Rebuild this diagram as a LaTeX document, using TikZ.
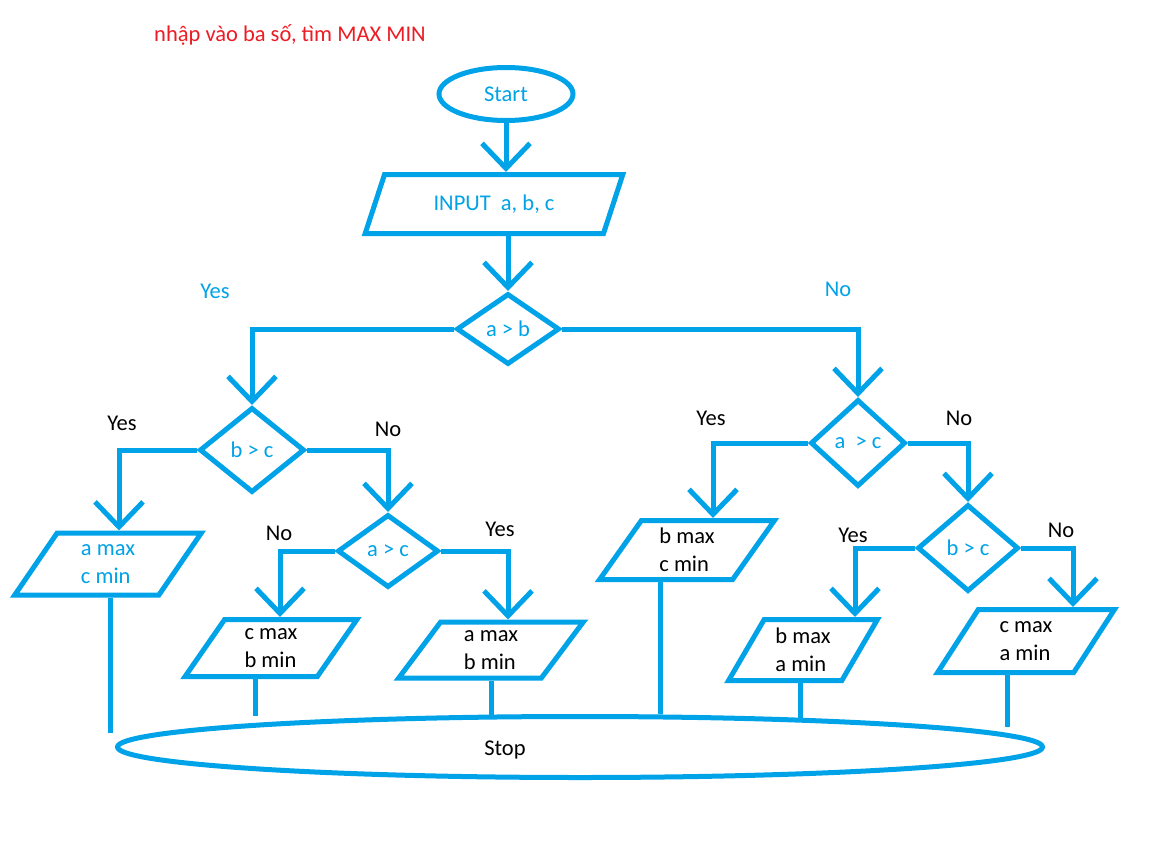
\documentclass[tikz,border=0pt]{standalone}
\usepackage{fontspec}
\setmainfont{Carlito}
\usetikzlibrary{positioning, arrows.meta, shapes.geometric}
\definecolor{flowblue}{RGB}{0,162,232}
\definecolor{titlered}{RGB}{237,28,36}

\begin{document}
\begin{tikzpicture}[x=1pt, y=-1pt, line width=5pt,
    every node/.style={font=\fontsize{22.5}{28}\selectfont},
    terminal/.style={ellipse, draw=flowblue, text=flowblue},
    decision/.style={diamond, draw=flowblue, text=flowblue, inner sep=0pt},
    iobox/.style={trapezium, trapezium left angle=60, trapezium right angle=120, trapezium stretches=true, draw=flowblue, align=left, inner sep=0pt},
    arr/.style={flowblue, -{Straight Barb[length=25pt, width=48pt]}},
    link/.style={flowblue},
    yesno/.style={text=black}]

    % Page
    \fill[white] (0,0) rectangle (1152,849);
    \useasboundingbox (0,0) rectangle (1152,849);

    % Title
    \node[text=titlered] (title) at (290,35) {nhập vào ba số, tìm MAX MIN};

    % Start and input
    \node[terminal, minimum width=134, minimum height=53] (start) at (506,94) {Start};
    \node[iobox, text=flowblue, minimum width=258, minimum height=59] (inp) at (494,204) {INPUT\ \ a, b, c};

    % Decisions
    \node[decision, minimum width=103, minimum height=71] (d1) at (508,329) {a > b};
    \node[decision, minimum width=105, minimum height=85] (d2) at (252,450) {b > c};
    \node[decision, minimum width=101, minimum height=73] (d3) at (388,551) {a > c};
    \node[decision, minimum width=95, minimum height=87] (d4) at (858,443) {a\ \ > c};
    \node[decision, minimum width=101, minimum height=87] (d5) at (968,548) {b > c};

    % Results
    \node[iobox, text=flowblue, minimum width=188, minimum height=62] (amcm) at (108,564) {a max\\c min};
    \node[iobox, minimum width=172, minimum height=57] (cmbm) at (271,648) {c max\\b min};
    \node[iobox, minimum width=186, minimum height=56] (ambm) at (491,650) {a max\\b min};
    \node[iobox, minimum width=175, minimum height=59] (bmcm) at (687,550) {b max\\c min};
    \node[iobox, minimum width=149, minimum height=61] (bmam) at (803,650) {b max\\a min};
    \node[iobox, minimum width=177, minimum height=63] (cmam) at (1026,641) {c max\\a min};

    % Stop
    \node[terminal, minimum width=925, minimum height=61] (stop) at (580,747) {};
    \node[yesno] (stoptext) at (505,750) {Stop};

    % Arrows
    \draw[arr] (start) -- (start |- inp.north);
    \draw[arr] (inp.south -| d1.north) -- (d1.north);
    \draw[arr] (d1.west) -| (d2.north);
    \draw[arr] (d1.east) -| (d4.north);
    \draw[arr] (d2.west) -| ([xshift=11pt]amcm.north);
    \draw[arr] (d2.east) -| (d3.north);
    \draw[arr] (d3.west) -| ([xshift=9pt]cmbm.north);
    \draw[arr] (d3.east) -| ([xshift=17pt]ambm.north);
    \draw[arr] (d4.west) -| ([xshift=26pt]bmcm.north);
    \draw[arr] (d4.east) -| (d5.north);
    \draw[arr] (d5.west) -| ([xshift=52pt]bmam.north);
    \draw[arr] (d5.east) -| ([xshift=47pt]cmam.north);

    % Lines down to Stop
    \draw[link] ([xshift=2pt]amcm.south) -- ++(0,135);
    \draw[link] ([xshift=-16pt]cmbm.south) -- ++(0,37);
    \draw[link] (ambm.south) -- ++(0,36);
    \draw[link] ([xshift=-27pt]bmcm.south) -- ++(0,132);
    \draw[link] ([xshift=-3pt]bmam.south) -- ++(0,35);
    \draw[link] ([xshift=-19pt]cmam.south) -- ++(0,52);

    % Labels
    \node[text=flowblue] (yes-ab) at (215,291) {Yes};
    \node[text=flowblue] (no-ab) at (838,289) {No};
    \node[yesno] (yes-bc) at (122,423) {Yes};
    \node[yesno] (no-bc) at (388,429) {No};
    \node[yesno] (no-ac) at (279,533) {No};
    \node[yesno] (yes-ac) at (500,529) {Yes};
    \node[yesno] (yes-ac2) at (711,418) {Yes};
    \node[yesno] (no-ac2) at (959,418) {No};
    \node[yesno] (yes-bc2) at (853,535) {Yes};
    \node[yesno] (no-bc2) at (1061,530) {No};

\end{tikzpicture}
\end{document}
